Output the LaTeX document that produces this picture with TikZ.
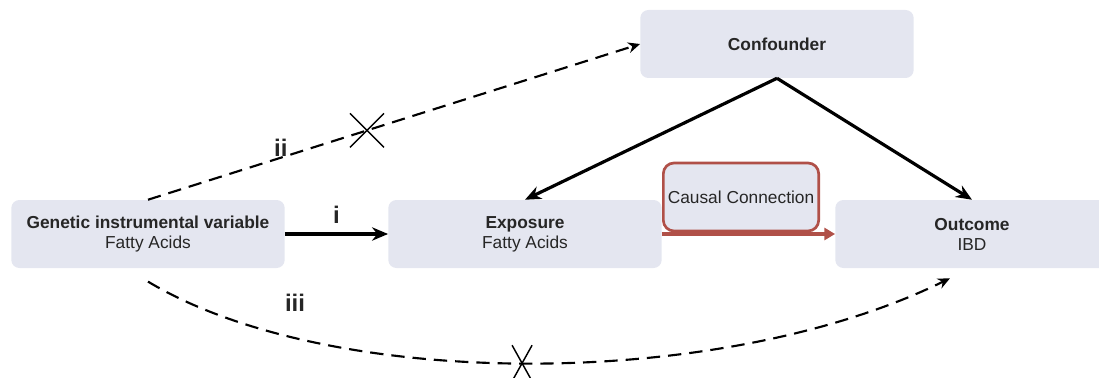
\documentclass[tikz,border=0pt]{standalone}
\usepackage{fontspec}
\setmainfont{Liberation Sans}
\usetikzlibrary{arrows.meta}

\definecolor{boxfill}{HTML}{E4E6F0}
\definecolor{causalred}{HTML}{B05048}

\tikzset{
  varbox/.style={rectangle, rounded corners=6pt, fill=boxfill, minimum width=205pt,
    minimum height=51pt, align=center, font=\fontsize{13}{15}\selectfont, text=black!85},
  solidarrow/.style={line width=2.4pt, -{Stealth[length=12pt,width=10pt]}},
  dasharrow/.style={line width=1.6pt, dash pattern=on 10pt off 6pt, -{Stealth[length=9pt,width=8pt]}},
  crossmark/.style={line width=1.1pt},
  pathlabel/.style={font=\fontsize{18}{18}\selectfont\bfseries, text=black!85}
}

\begin{document}
\begin{tikzpicture}[x=0.75pt,y=-0.75pt]
\useasboundingbox (0,0) rectangle (1099,378);

\node[varbox] (Gen) at (148,234) {\textbf{Genetic instrumental variable}\\Fatty Acids};
\node[varbox] (Exp) at (525,234) {\textbf{Exposure}\\Fatty Acids};
\node[varbox] (Out) at (972,234) {\textbf{Outcome}\\IBD};
\node[varbox] (Conf) at (777,44) {\textbf{Confounder}};
\node[varbox, draw=causalred, line width=2pt, rounded corners=8pt, minimum width=115pt] (Causal) at (741,197) {Causal Connection};

\coordinate (iiiStart) at ([yshift=-10pt]Gen.south);
\coordinate (iiiEnd) at ([xshift=-16.5pt,yshift=-7.5pt]Out.south);

\draw[solidarrow, line width=3pt] (Gen) -- node[pathlabel, above=3pt] {i} (Exp);
\draw[solidarrow] (Conf.south) -- (Exp.north);
\draw[solidarrow] (Conf.south) -- (Out.north);
\draw[line width=3pt, causalred, -{Triangle[length=8pt,width=9pt]}] (Exp.east) -- (Out.west);

\draw[dasharrow] (Gen.north) -- node[pos=0.27, pathlabel, anchor=south, inner sep=0pt] {ii}
  coordinate[pos=0.445] (cutII) (Conf.west);
\draw[dasharrow] (iiiStart) .. controls (330,391) and (720,391) .. coordinate[pos=0.49] (cutIII) (iiiEnd);
\node[pathlabel] (lblIII) at (295,303) {iii};

% blocked paths
\draw[crossmark] ([shift={(-17,-17)}]cutII) -- ([shift={(17,17)}]cutII)
  ([shift={(17,-17)}]cutII) -- ([shift={(-17,17)}]cutII);
\draw[crossmark] ([shift={(-10,-18)}]cutIII) -- ([shift={(10,18)}]cutIII)
  ([shift={(10,-18)}]cutIII) -- ([shift={(-10,18)}]cutIII);

\end{tikzpicture}
\end{document}
